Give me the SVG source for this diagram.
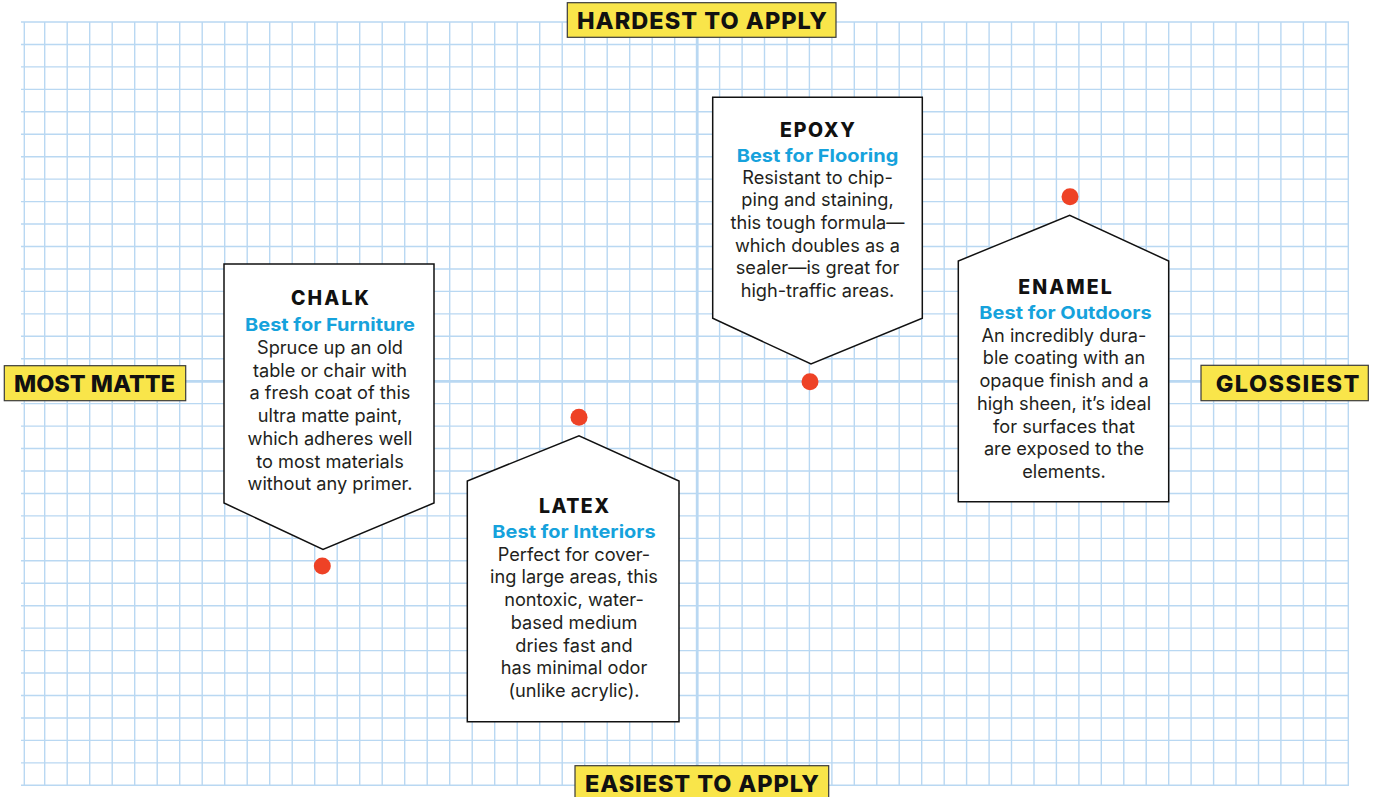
<svg xmlns="http://www.w3.org/2000/svg" width="1377" height="797" viewBox="0 0 1377 797">
<defs>
<style>
.g{stroke:#b9d8f2;stroke-width:1.4;fill:none}
.gc{stroke:#b9d8f2;stroke-width:2.8;fill:none}
.ax rect{fill:#f9e54a;stroke:#3a3a3a;stroke-width:1.2}
.ax text{font-family:Inter,"Liberation Sans",sans-serif;font-weight:800;font-size:23.5px;fill:#111;text-anchor:middle}
.nd path{fill:#fff;stroke:#111;stroke-width:1.5}
.dot{fill:#ee4226}
.t{font-family:Inter,"Liberation Sans",sans-serif;font-weight:800;font-size:19.5px;fill:#111;text-anchor:middle}
.s{font-family:Inter,"Liberation Sans",sans-serif;font-weight:700;font-size:18px;fill:#16a2dc;text-anchor:middle}
.b{font-family:Inter,"Liberation Sans",sans-serif;font-weight:400;font-size:18.2px;fill:#231f20;text-anchor:middle}
</style>
</defs>
<rect width="1377" height="797" fill="#fff"/>
<g id="grid">
<path class="g" d="M24.3,22V785M44.7,22V785M67.2,22V785M89.7,22V785M112.2,22V785M134.7,22V785M157.2,22V785M179.7,22V785M202.2,22V785M224.7,22V785M247.2,22V785M269.7,22V785M292.2,22V785M314.7,22V785M337.2,22V785M359.7,22V785M382.2,22V785M404.7,22V785M427.2,22V785M449.7,22V785M472.2,22V785M494.7,22V785M517.2,22V785M539.7,22V785M562.2,22V785M584.7,22V785M607.2,22V785M629.7,22V785M652.2,22V785M674.7,22V785M719.6,22V785M742.1,22V785M764.5,22V785M787,22V785M809.4,22V785M831.9,22V785M854.3,22V785M876.8,22V785M899.2,22V785M921.7,22V785M944.2,22V785M966.6,22V785M989.1,22V785M1011.5,22V785M1034,22V785M1056.4,22V785M1078.9,22V785M1101.3,22V785M1123.8,22V785M1146.2,22V785M1168.7,22V785M1191.1,22V785M1213.6,22V785M1236,22V785M1258.5,22V785M1280.9,22V785M1303.4,22V785M1325.8,22V785M1348.3,22V785"/>
<path class="g" d="M21,22H1349M21,44.45H1349M21,66.9H1349M21,89.35H1349M21,111.8H1349M21,134.25H1349M21,156.7H1349M21,179.15H1349M21,201.6H1349M21,224.05H1349M21,246.5H1349M21,268.95H1349M21,291.4H1349M21,313.85H1349M21,336.3H1349M21,358.75H1349M21,403.65H1349M21,426.1H1349M21,448.55H1349M21,471H1349M21,493.45H1349M21,515.9H1349M21,538.35H1349M21,560.8H1349M21,583.25H1349M21,605.7H1349M21,628.15H1349M21,650.6H1349M21,673.05H1349M21,695.5H1349M21,717.95H1349M21,740.4H1349M21,762.85H1349M21,785.3H1349"/>
<path class="gc" d="M697.2,22V785M21,381.4H1349"/>
</g>
<g id="axis-top" class="ax"><rect x="567.3" y="2.7" width="268.7" height="34.6"/><text x="702" y="28.5" textLength="250" lengthAdjust="spacing">HARDEST TO APPLY</text></g>
<g id="axis-left" class="ax"><rect x="4.3" y="365.7" width="181.4" height="35"/><text x="94.5" y="392" textLength="161" lengthAdjust="spacing">MOST MATTE</text></g>
<g id="axis-right" class="ax"><rect x="1201" y="365.3" width="167.3" height="35.4"/><text x="1287.5" y="391.5" textLength="143.6" lengthAdjust="spacing">GLOSSIEST</text></g>
<g id="axis-bottom" class="ax"><rect x="575" y="765.7" width="253.7" height="40"/><text x="702" y="791.5" textLength="234" lengthAdjust="spacing">EASIEST TO APPLY</text></g>
<g id="chalk" class="nd">
<path d="M224,264L434,264L434,503L323,549.5L224,503Z"/>
<circle class="dot" cx="322.3" cy="566" r="8.5"/>
<text class="t" x="330" y="305" textLength="78" lengthAdjust="spacing">CHALK</text>
<text class="s" x="330" y="330.5" textLength="170" lengthAdjust="spacingAndGlyphs">Best for Furniture</text>
<text class="b"><tspan x="330" y="354">Spruce up an old</tspan><tspan x="330" y="376.7">table or chair with</tspan><tspan x="330" y="399.4">a fresh coat of this</tspan><tspan x="330" y="422.1">ultra matte paint,</tspan><tspan x="330" y="444.8">which adheres well</tspan><tspan x="330" y="467.5">to most materials</tspan><tspan x="330" y="490.2">without any primer.</tspan></text>
</g>
<g id="epoxy" class="nd">
<path d="M712.7,97.3L922.3,97.3L922.3,318.3L811,364L712.7,318.3Z"/>
<circle class="dot" cx="810" cy="381.7" r="8.5"/>
<text class="t" x="817.5" y="136.7" textLength="75" lengthAdjust="spacing">EPOXY</text>
<text class="s" x="817.5" y="161.7" textLength="161.7" lengthAdjust="spacingAndGlyphs">Best for Flooring</text>
<text class="b"><tspan x="817.5" y="183.5">Resistant to chip-</tspan><tspan x="817.5" y="206.2">ping and staining,</tspan><tspan x="817.5" y="228.9">this tough formula—</tspan><tspan x="817.5" y="251.6">which doubles as a</tspan><tspan x="817.5" y="274.3">sealer—is great for</tspan><tspan x="817.5" y="297">high-traffic areas.</tspan></text>
</g>
<g id="enamel" class="nd">
<path d="M958.3,501.7L958.3,261L1069.7,215.3L1168.7,261L1168.7,501.7Z"/>
<circle class="dot" cx="1070" cy="196.7" r="8.5"/>
<text class="t" x="1065" y="293.5" textLength="93.7" lengthAdjust="spacing">ENAMEL</text>
<text class="s" x="1065.5" y="319.3" textLength="172.3" lengthAdjust="spacingAndGlyphs">Best for Outdoors</text>
<text class="b"><tspan x="1064" y="341.7">An incredibly dura-</tspan><tspan x="1064" y="364.4">ble coating with an</tspan><tspan x="1064" y="387.1">opaque finish and a</tspan><tspan x="1064" y="409.8">high sheen, it’s ideal</tspan><tspan x="1064" y="432.5">for surfaces that</tspan><tspan x="1064" y="455.2">are exposed to the</tspan><tspan x="1064" y="477.9">elements.</tspan></text>
</g>
<g id="latex" class="nd">
<path d="M467.3,721.7L467.3,481L579,435.7L679,481L679,721.7Z"/>
<circle class="dot" cx="579" cy="417.3" r="8.5"/>
<text class="t" x="574" y="513.3" textLength="70" lengthAdjust="spacing">LATEX</text>
<text class="s" x="574" y="537.7" textLength="163.3" lengthAdjust="spacingAndGlyphs">Best for Interiors</text>
<text class="b"><tspan x="574" y="560.7">Perfect for cover-</tspan><tspan x="574" y="583.4">ing large areas, this</tspan><tspan x="574" y="606.1">nontoxic, water-</tspan><tspan x="574" y="628.8">based medium</tspan><tspan x="574" y="651.5">dries fast and</tspan><tspan x="574" y="674.2">has minimal odor</tspan><tspan x="574" y="696.9">(unlike acrylic).</tspan></text>
</g>
<g id="connectors"></g>
</svg>
